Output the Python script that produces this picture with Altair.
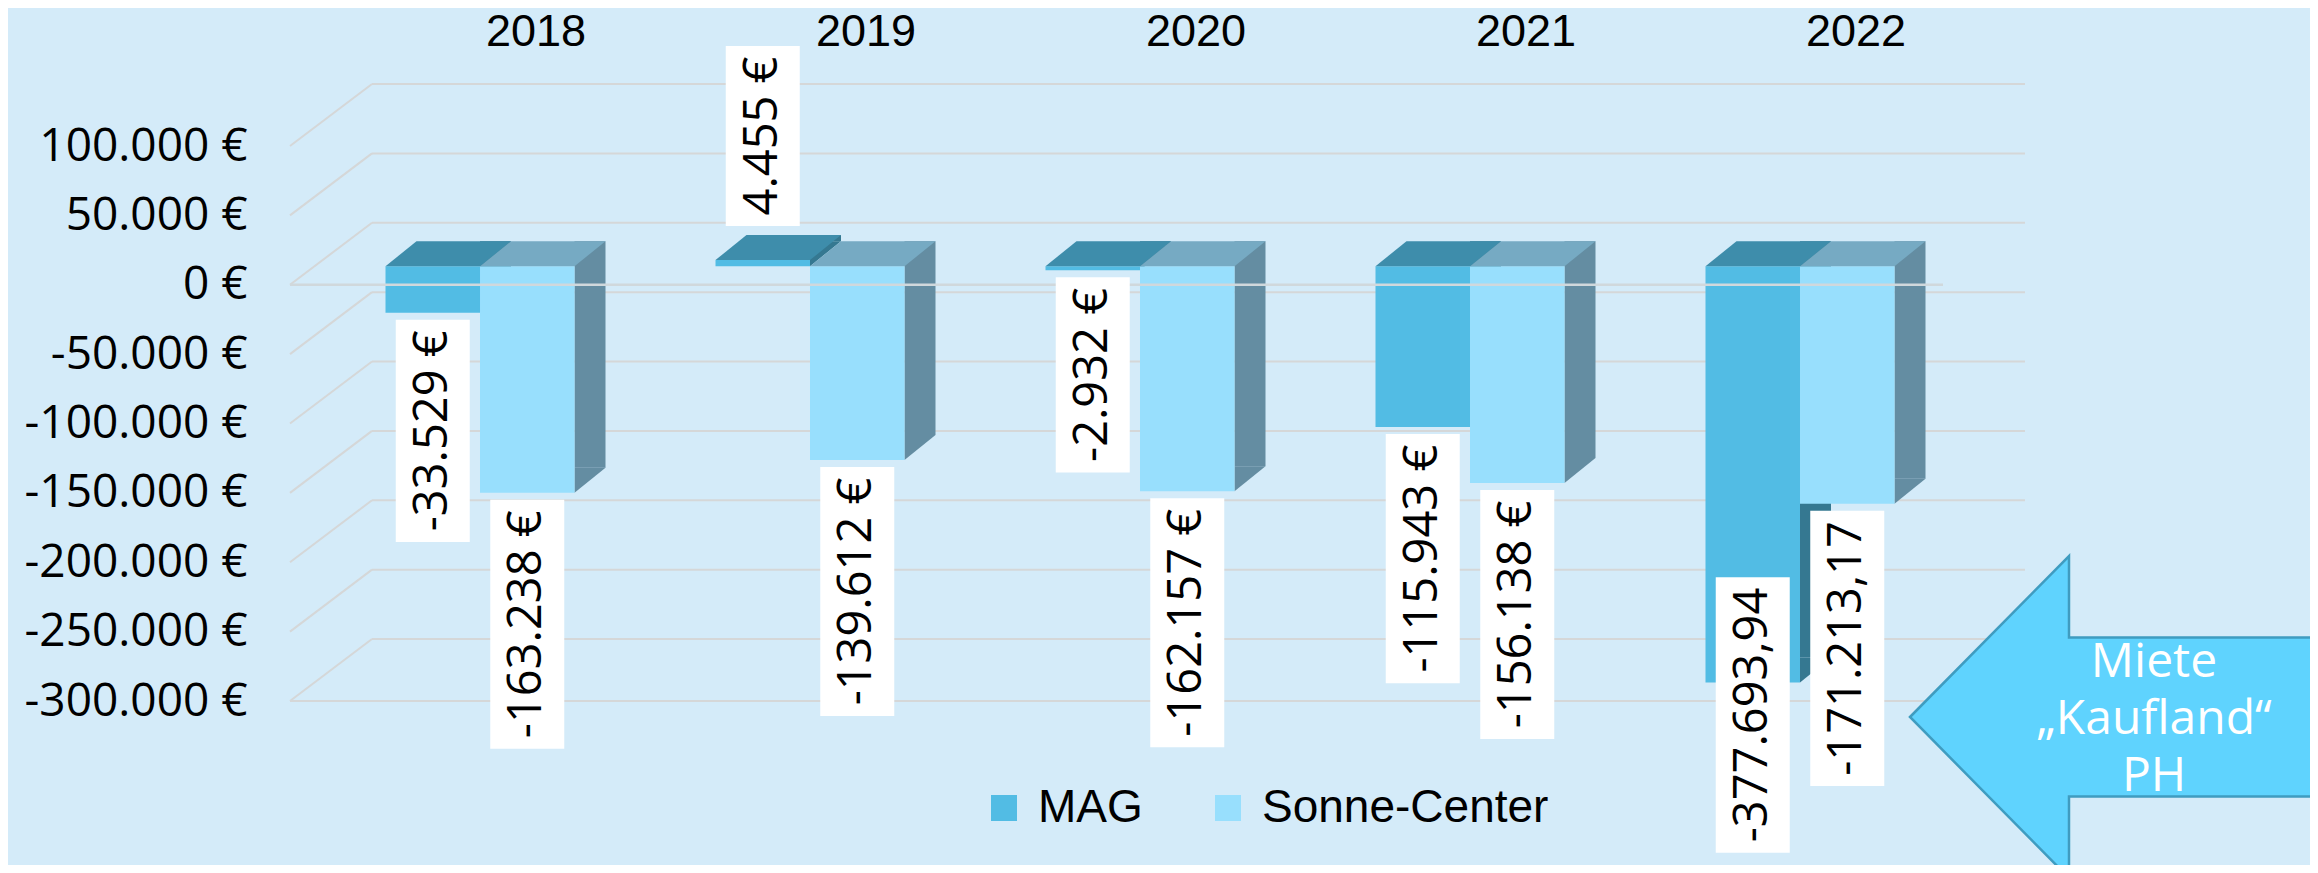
import altair as alt
import pandas as pd

# ---------------- data ----------------
years = ["2018", "2019", "2020", "2021", "2022"]
series_names = ["MAG", "Sonne-Center"]
mag_values = [-33529, 4455, -2932, -115943, -377693.94]
sonne_values = [-163238, -139612, -162157, -156138, -171213.17]
mag_labels = ["-33.529 €", "4.455 €", "-2.932 €", "-115.943 €", "-377.693,94"]
sonne_labels = ["-163.238 €", "-139.612 €", "-162.157 €", "-156.138 €", "-171.213,17"]
y_ticks = [100000, 50000, 0, -50000, -100000, -150000, -200000, -250000, -300000]
note_lines = ["Miete", "„Kaufland“", "PH"]

# ---------------- layout / style ----------------
Y_MIN, Y_MAX = -300000, 100000
W, H = 1653, 555
PAD_L, PAD_T = 282, 138
TOTAL_W, TOTAL_H = 2302, 857
UPP = (Y_MAX - Y_MIN) / H  # data units per pixel

BG = "#d4ebf9"
GRID = "#d5d7d8"
ZERO = "#d0d8dc"
FRONT = {"MAG": "#52bce4", "Sonne-Center": "#98dffd"}
TOP = {"MAG": "#3e8dab", "Sonne-Center": "#76aac3"}
SIDE = {"MAG": "#357891", "Sonne-Center": "#648da2"}
CENTER = {"MAG": -47.25, "Sonne-Center": 47.25}

LABEL_FONT = "Open Sans"
LABEL_SIZE = 47
CHAR_EM = {"-": 0.322, ".": 0.266, ",": 0.246, " ": 0.26, "€": 0.572}


def text_len(s):
    return sum(CHAR_EM.get(c, 0.572) for c in s) * LABEL_SIZE


rows = []
for name, vals, labs in [("MAG", mag_values, mag_labels),
                         ("Sonne-Center", sonne_values, sonne_labels)]:
    for yr, v, lab in zip(years, vals, labs):
        vd = max(v, Y_MIN)
        L = text_len(lab) + 21
        if v < Y_MIN:
            c = Y_MIN - 14 * UPP
            top, bot = c + L / 2 * UPP, c - L / 2 * UPP
        elif v >= 0:
            bot = v + 52.5 * UPP
            top = bot + L * UPP
        else:
            top = v + 11.5 * UPP
            bot = top - L * UPP
        rows.append(dict(year=yr, series=name, v=v, label=lab,
                         lo=min(vd, 0), hi=max(vd, 0),
                         box_top=top, box_bot=bot, mid=(top + bot) / 2))
df = pd.DataFrame(rows)
ticks_df = pd.DataFrame({"t": y_ticks})

yscale = alt.Scale(domain=[Y_MIN, Y_MAX], nice=False, zero=False)
yaxis = alt.Axis(values=y_ticks, domain=False, ticks=False, grid=False, title=None,
                 labelExpr="(datum.value < 0 ? '-' : '') + replace(format(abs(datum.value), ',.0f'), ',', '.') + ' €'",
                 labelFont="Open Sans", labelFontSize=46, labelColor="black",
                 labelPadding=43, labelOverlap=False, labelLimit=600)
xscale = alt.Scale(domain=years, paddingInner=0.5, paddingOuter=0.25455, align=0.6399, round=False)
xaxis = alt.Axis(orient="top", domain=False, ticks=False, grid=False, title=None,
                 labelAngle=0, labelFont="Liberation Sans", labelFontSize=45,
                 labelColor="black", labelOffset=56, labelPadding=101,
                 labelBaseline="alphabetic")

X = alt.X("year:N", scale=xscale, axis=xaxis)

TOP_PATH = "M -1 0.1992 L 0.506 0.1992 L 1 -0.1992 L -0.506 -0.1992 Z"
TOP_SIZE = 125.5 ** 2
TRI_PATH = "M -1 -0.806 L 1 -0.806 L -1 0.806 Z"
TRI_SIZE = 31.0 ** 2

# ---------------- layers ----------------
grid_back = alt.Chart(ticks_df).mark_rule(color=GRID, strokeWidth=2, yOffset=-62).encode(
    y=alt.Y("t:Q", scale=yscale, axis=yaxis), x=alt.value(82), x2=alt.value(W + 82))
grid_diag = alt.Chart(ticks_df).mark_rule(color=GRID, strokeWidth=2, y2Offset=-62).encode(
    y=alt.Y("t:Q", scale=yscale, axis=yaxis), y2=alt.Y2("t:Q"),
    x=alt.value(0), x2=alt.value(82))
floor_line = alt.Chart(ticks_df).transform_filter(alt.datum.t == Y_MIN).mark_rule(
    color=GRID, strokeWidth=2).encode(
    y=alt.Y("t:Q", scale=yscale, axis=yaxis), x=alt.value(0), x2=alt.value(W))

color = alt.Color("series:N", scale=alt.Scale(domain=series_names,
                                              range=[FRONT[s] for s in series_names]),
                  legend=alt.Legend(title=None, orient="none", legendX=691, legendY=639,
                                    direction="horizontal", symbolType="square",
                                    symbolSize=676, symbolStrokeWidth=0, symbolOpacity=1,
                                    labelFont="Liberation Sans", labelFontSize=46,
                                    labelColor="black", labelOffset=11, columnPadding=62,
                                    padding=0, labelLimit=500))

bar_layers = []
for name in series_names:
    base = alt.Chart(df).transform_filter(alt.datum.series == name)
    c = CENTER[name]
    side = base.mark_bar(width=31, xOffset=c + 62.75, yOffset=-43.5, y2Offset=-43.5,
                         color=SIDE[name]).encode(
        x=X, y=alt.Y("lo:Q", scale=yscale, axis=yaxis), y2="hi:Q")
    tri = base.mark_point(shape=TRI_PATH, size=TRI_SIZE, filled=True, opacity=1,
                          strokeWidth=0, color=SIDE[name], xOffset=c + 62.75,
                          yOffset=-31).encode(
        x=X, y=alt.Y("lo:Q", scale=yscale, axis=yaxis))
    front = base.mark_bar(width=94.5, xOffset=c, yOffset=-18.5, y2Offset=-18.5).encode(
        x=X, y=alt.Y("lo:Q", scale=yscale, axis=yaxis), y2="hi:Q", color=color)
    topf = base.mark_point(shape=TOP_PATH, size=TOP_SIZE, filled=True, opacity=1,
                           strokeWidth=0, color=TOP[name], xOffset=c + 15.5,
                           yOffset=-31).encode(
        x=X, y=alt.Y("hi:Q", scale=yscale, axis=yaxis))
    bar_layers += [side, tri, front, topf]

zero_line = alt.Chart(ticks_df).transform_filter(alt.datum.t == 0).mark_rule(
    color=ZERO, strokeWidth=2.5).encode(
    y=alt.Y("t:Q", scale=yscale, axis=yaxis), x=alt.value(0), x2=alt.value(W))

label_layers = []
for name in series_names:
    base = alt.Chart(df).transform_filter(alt.datum.series == name)
    c = CENTER[name]
    box = base.mark_bar(width=74, xOffset=c, color="white").encode(
        x=X, y=alt.Y("box_top:Q", scale=yscale, axis=yaxis), y2="box_bot:Q")
    txt = base.mark_text(angle=270, align="center", baseline="middle", xOffset=c,
                         font=LABEL_FONT, fontSize=LABEL_SIZE, color="black").encode(
        x=X, y=alt.Y("mid:Q", scale=yscale, axis=yaxis), text="label:N")
    label_layers += [box, txt]

ARROW_PATH = ("M -1 0 L -0.2206 -0.789 L -0.2206 -0.39 L 1 -0.39 L 1 0.39 "
              "L -0.2206 0.39 L -0.2206 0.789 Z")
note_df = pd.DataFrame({"note": [" ".join(note_lines)]})
arrow = alt.Chart(note_df).mark_point(shape=ARROW_PATH, size=408.0 ** 2, filled=True,
                                      opacity=1, fill="#5fd3fe", stroke="#3f9cc0",
                                      strokeWidth=2.5).encode(
    x=alt.value(1824), y=alt.value(571))
note = alt.Chart(note_df).mark_text(text=note_lines, font="Open Sans", fontSize=48,
                                    color="white", align="center", baseline="alphabetic",
                                    lineHeight=57).encode(
    x=alt.value(1864), y=alt.value(531))

chart = alt.layer(grid_back, grid_diag, floor_line, *bar_layers, zero_line,
                  *label_layers, arrow, note).properties(
    width=W, height=H,
    background=BG,
    padding={"left": PAD_L, "top": PAD_T, "right": TOTAL_W - PAD_L - W,
             "bottom": TOTAL_H - PAD_T - H},
    autosize=alt.AutoSizeParams(type="none"),
).configure_view(stroke=None)

chart.save("out.html", embed_options={"renderer": "svg", "actions": False})
